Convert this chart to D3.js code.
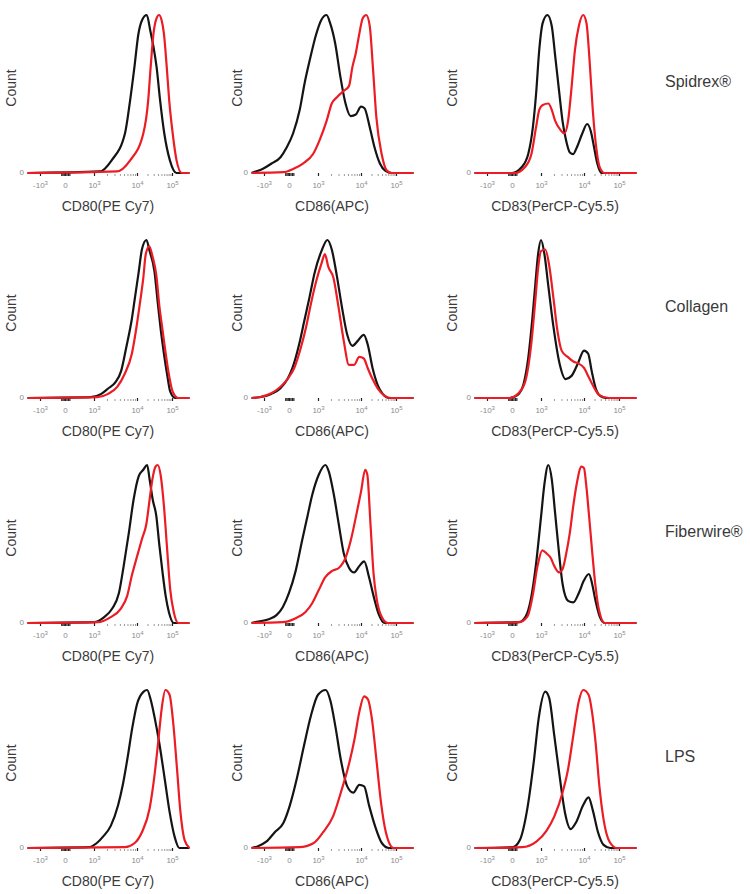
<!DOCTYPE html>
<html>
<head>
<meta charset="utf-8">
<script src="https://cdn.jsdelivr.net/npm/d3@7"></script>
<style>
  html, body { margin: 0; padding: 0; background: #fff; }
  svg { display: block; font-family: "Liberation Sans", Arial, sans-serif; }
  .axis path.domain { display: none; }
  .axis .tick line { stroke: #222; stroke-width: 1.2; }
  .axis .tick text { fill: #8a8a8a; font-size: 8px; }
  .minor .tick line { stroke: #9a9a9a; stroke-width: 1; }
  .minor .tick text { display: none; }
  .hist { fill: none; stroke-width: 2.2; stroke-linejoin: round; }
  .lbl { fill: #3a3a3a; }
</style>
</head>
<body>
<div id="chart"></div>
<script>
// flow histograms, % of mode vs. biexponential fluorescence (decade units:
// -1 = -10^3, 0 = 0, 1 = 10^3, 2 = 10^4, 3 = 10^5)

const markers = ["CD80(PE Cy7)", "CD86(APC)", "CD83(PerCP-Cy5.5)"];
const conditions = ["Spidrex®", "Collagen", "Fiberwire®", "LPS"];
const tickValues = [-1, 0, 1, 2, 3];
const tickBase = ["-10", "0", "10", "10", "10"];
const tickExp = ["3", "", "3", "4", "5"];

// [decade position, % of max]; black = control, red = treated
const spidrexCD80Black = [[-1.5,0],[1.14,1],[1.41,8],[1.72,25],[1.84,46],[1.94,67],[2.04,88],[2.15,97],[2.28,100],[2.38,90],[2.47,80],[2.56,67],[2.66,46],[2.78,25],[2.94,8],[3.13,0],[3.5,0]];
const spidrexCD80Red = [[-1.5,0],[1.53,1],[1.84,8],[2.18,25],[2.32,46],[2.39,67],[2.47,88],[2.56,98],[2.63,100],[2.7,97],[2.77,88],[2.85,67],[2.92,46],[3.02,25],[3.13,8],[3.28,0],[3.5,0]];
const spidrexCD86Black = [[-1.5,0],[-1.42,0.5],[-1.06,2.5],[-0.7,6],[-0.34,10],[-0.1,16],[0.14,25],[0.37,40],[0.54,57],[0.71,71],[0.94,88],[1.08,97],[1.2,100],[1.28,95],[1.4,82],[1.52,61],[1.64,44],[1.76,36],[1.88,37],[2.0,42],[2.1,41],[2.25,29],[2.39,16],[2.54,6],[2.69,1.5],[2.88,0],[3.5,0]];
const spidrexCD86Red = [[-1.5,0],[-0.22,0.5],[0.14,2.5],[0.48,6],[0.83,12],[1.04,21],[1.2,33],[1.32,44],[1.44,48],[1.6,52],[1.72,55],[1.8,67],[1.88,76],[1.96,88],[2.05,98],[2.15,100],[2.25,93],[2.34,67],[2.44,35],[2.59,12],[2.74,1.5],[2.88,0],[3.5,0]];
const spidrexCD83Black = [[-1.5,0],[0,0],[0.33,3.6],[0.56,12],[0.72,29],[0.83,50],[0.94,78],[1.04,95],[1.15,100],[1.25,93],[1.33,74],[1.42,52],[1.5,33],[1.58,21],[1.67,13],[1.75,12],[1.83,16],[1.96,25],[2.09,31],[2.2,26],[2.29,16],[2.38,6],[2.5,0],[3.5,0]];
const spidrexCD83Red = [[-1.5,0],[0.11,0],[0.44,3.6],[0.67,12],[0.83,29],[0.94,40],[1.04,43],[1.17,44],[1.25,40],[1.33,33],[1.46,27],[1.54,25],[1.63,33],[1.71,54],[1.79,78],[1.88,93],[1.98,100],[2.07,95],[2.16,71],[2.25,40],[2.35,16],[2.45,3.6],[2.59,0],[3.5,0]];

const collagenCD80Black = [[-1.5,0],[0.88,0.5],[1.17,2.6],[1.33,6],[1.5,10],[1.63,17],[1.75,32],[1.88,50],[1.96,65],[2.05,80],[2.14,94],[2.27,100],[2.36,93],[2.5,80],[2.59,61],[2.68,43],[2.77,28],[2.86,15],[2.95,4],[3.09,0],[3.5,0]];
const collagenCD80Red = [[-1.5,0],[1.07,0.5],[1.33,2.6],[1.54,7],[1.71,15],[1.88,28],[2.0,47],[2.09,61],[2.18,76],[2.25,91],[2.35,96],[2.45,89],[2.55,78],[2.64,58],[2.73,43],[2.82,28],[2.91,15],[3.02,4],[3.18,0],[3.5,0]];
const collagenCD86Black = [[-1.5,0],[-1.18,0.5],[-0.71,2.6],[-0.35,6],[-0.06,12],[0.12,19],[0.35,34],[0.53,49],[0.71,64],[0.88,79],[1.08,93],[1.22,100],[1.32,94],[1.44,77],[1.56,57],[1.68,40],[1.8,33],[1.92,36],[2.08,40],[2.19,34],[2.33,19],[2.48,8],[2.62,2.6],[2.81,0],[3.5,0]];
const collagenCD86Red = [[-1.5,0],[-1.18,0.5],[-0.71,3],[-0.35,7],[-0.06,12],[0.18,19],[0.41,32],[0.59,45],[0.76,60],[0.94,74],[1.08,85],[1.16,91],[1.24,83],[1.36,76],[1.48,57],[1.6,36],[1.72,21],[1.84,21],[1.96,26],[2.08,25],[2.19,19],[2.33,12],[2.48,6],[2.67,1.5],[2.86,0],[3.5,0]];
const collagenCD83Black = [[-1.5,0],[-0.1,0],[0.2,2],[0.4,9],[0.55,24],[0.7,50],[0.8,71],[0.9,91],[1.0,100],[1.08,91],[1.17,71],[1.29,45],[1.43,22],[1.57,12],[1.71,14],[1.86,22],[2.0,30],[2.12,28],[2.22,17],[2.33,6.5],[2.48,1],[2.62,0],[3.5,0]];
const collagenCD83Red = [[-1.5,0],[-0.1,0],[0.2,2.6],[0.45,10],[0.65,32],[0.8,61],[0.9,82],[1.0,93],[1.1,94],[1.19,84],[1.29,63],[1.38,43],[1.48,30],[1.62,26],[1.76,23],[1.86,22],[2.0,19],[2.14,13],[2.29,6.5],[2.43,2],[2.71,0],[3.5,0]];

const fiberwireCD80Black = [[-1.5,0],[1.0,0.5],[1.23,3.6],[1.42,9],[1.58,19],[1.69,36],[1.81,57],[1.92,78],[2.05,93],[2.18,97],[2.29,100],[2.36,91],[2.45,78],[2.55,68],[2.64,49],[2.73,32],[2.82,17],[2.91,7],[3.05,0],[3.5,0]];
const fiberwireCD80Red = [[-1.5,0],[1.08,0.5],[1.38,3.6],[1.62,9],[1.77,17],[1.88,30],[2.0,42],[2.14,53],[2.27,63],[2.36,78],[2.44,91],[2.53,99],[2.59,100],[2.68,93],[2.77,74],[2.86,47],[2.95,21],[3.05,7],[3.18,0],[3.5,0]];
const fiberwireCD86Black = [[-1.5,0],[-1.38,0.5],[-0.88,2],[-0.5,5],[-0.25,10],[0,19],[0.23,33],[0.45,52],[0.63,67],[0.8,81],[1.02,94],[1.17,100],[1.25,96],[1.37,81],[1.48,63],[1.6,44],[1.72,35],[1.84,32],[1.96,36],[2.09,39],[2.23,29],[2.36,17],[2.5,6],[2.68,0],[3.5,0]];
const fiberwireCD86Red = [[-1.5,0],[-0.25,0.5],[0.23,3],[0.57,7],[0.8,12.5],[1.02,21],[1.17,29],[1.33,33],[1.49,35],[1.65,42],[1.76,52],[1.88,67],[2.0,83],[2.12,97],[2.18,94],[2.27,63],[2.36,31],[2.45,15],[2.59,4],[2.77,0],[3.5,0]];
const fiberwireCD83Black = [[-1.5,0],[0.24,0.5],[0.47,4],[0.65,15],[0.82,36],[1.0,67],[1.08,88],[1.17,100],[1.25,91],[1.33,69],[1.42,44],[1.5,25],[1.63,14],[1.75,13],[1.88,19],[2.0,27],[2.14,31],[2.23,25],[2.32,15],[2.45,4],[2.59,0],[3.5,0]];
const fiberwireCD83Red = [[-1.5,0],[0.24,0.5],[0.53,4],[0.71,17],[0.88,36],[1.03,46],[1.13,44],[1.23,41],[1.31,36],[1.42,32],[1.5,34],[1.58,43],[1.67,57],[1.75,74],[1.83,88],[1.94,99],[2.0,98],[2.06,88],[2.14,69],[2.23,46],[2.32,25],[2.43,8],[2.59,0],[3.5,0]];

const lpsCD80Black = [[-1.5,0],[0.82,0.5],[1.06,3],[1.22,7.5],[1.39,14],[1.56,27],[1.67,40],[1.78,57],[1.89,76],[2.0,91],[2.19,99],[2.29,100],[2.39,94],[2.5,83],[2.64,66],[2.79,44],[2.93,23],[3.07,7.5],[3.21,0],[3.5,0]];
const lpsCD80Red = [[-1.5,0],[1.72,0.5],[1.94,3],[2.14,10],[2.36,25],[2.5,46],[2.61,68],[2.71,89],[2.81,100],[2.93,97],[3.04,78],[3.14,51],[3.24,23],[3.36,5],[3.5,0]];
const lpsCD86Black = [[-1.5,0],[-1.26,1],[-0.91,4],[-0.57,10],[-0.22,16],[0.03,27],[0.27,44],[0.52,65],[0.76,84],[1.0,97],[1.18,100],[1.29,93],[1.41,76],[1.53,56],[1.68,39],[1.82,35],[1.96,40],[2.09,39],[2.23,27],[2.4,14],[2.6,3],[2.8,0],[3.5,0]];
const lpsCD86Red = [[-1.5,0],[0.35,0.5],[0.84,3],[1.12,10],[1.35,20],[1.53,35],[1.71,52],[1.85,69],[1.96,86],[2.09,96],[2.2,94],[2.31,82],[2.44,56],[2.57,29],[2.71,10],[2.93,0],[3.5,0]];
const lpsCD83Black = [[-1.5,0],[0.03,0.5],[0.27,5],[0.52,24],[0.76,56],[0.92,82],[1.1,99],[1.19,95],[1.31,71],[1.44,44],[1.56,22],[1.69,12],[1.81,16],[1.98,27],[2.13,32],[2.25,24],[2.4,10],[2.56,2],[2.75,0],[3.5,0]];
const lpsCD83Red = [[-1.5,0],[0.35,0.5],[0.84,4],[1.13,11],[1.31,20],[1.5,35],[1.63,50],[1.75,71],[1.88,93],[1.98,100],[2.13,97],[2.23,86],[2.33,67],[2.44,39],[2.56,18],[2.73,4],[2.94,0],[3.5,0]];

const panels = [
  [[spidrexCD80Black, spidrexCD80Red], [spidrexCD86Black, spidrexCD86Red], [spidrexCD83Black, spidrexCD83Red]],
  [[collagenCD80Black, collagenCD80Red], [collagenCD86Black, collagenCD86Red], [collagenCD83Black, collagenCD83Red]],
  [[fiberwireCD80Black, fiberwireCD80Red], [fiberwireCD86Black, fiberwireCD86Red], [fiberwireCD83Black, fiberwireCD83Red]],
  [[lpsCD80Black, lpsCD80Red], [lpsCD86Black, lpsCD86Red], [lpsCD83Black, lpsCD83Red]]
];

// layout
const W = 750, H = 894;
const colLeft = [28, 252, 475];
const countX = [11, 237, 452];
const tickOffsets = [12, 37, 66, 109, 144];   // biex decades are not evenly spaced
const rowBase = i => 173 + i * 225;
const plotH = 158;
const seriesColor = ["#141414", "#ec1c24"];

const svg = d3.select("#chart").append("svg")
  .attr("width", W).attr("height", H)
  .attr("viewBox", `0 0 ${W} ${H}`);
svg.append("rect").attr("width", W).attr("height", H).attr("fill", "#fff");

// minor log ticks inside the 10^3..10^5 decades, plus the dense linear bit at 0
const minorTicks = [];
for (const d of [1, 2]) for (let k = 2; k <= 9; k++) minorTicks.push(d + Math.log10(k));
const zeroTicks = [-0.15, -0.1, -0.05, 0.05, 0.1, 0.15];

conditions.forEach((cond, r) => {
  const base = rowBase(r);
  const y = d3.scaleLinear([0, 100], [base, base - plotH]);

  markers.forEach((marker, c) => {
    const left = colLeft[c];
    const x = d3.scaleLinear(tickValues, tickOffsets.map(o => left + o));
    const g = svg.append("g");

    // minor ticks
    g.append("g").attr("class", "axis minor")
      .attr("transform", `translate(0,${base + 1})`)
      .call(d3.axisBottom(x).tickValues(minorTicks).tickSize(2).tickFormat(""));
    g.append("g").attr("class", "axis")
      .attr("transform", `translate(0,${base})`)
      .call(d3.axisBottom(x).tickValues(zeroTicks).tickSize(3).tickFormat(""));

    // major ticks with superscript labels
    const ax = g.append("g").attr("class", "axis")
      .attr("transform", `translate(0,${base})`)
      .call(d3.axisBottom(x).tickValues(tickValues).tickSize(3).tickPadding(6)
        .tickFormat(""));
    ax.selectAll(".tick text").each(function (d, i) {
      const t = d3.select(this);
      t.append("tspan").text(tickBase[i]);
      if (tickExp[i]) {
        t.append("tspan").attr("dy", "-3").attr("font-size", "6px").text(tickExp[i]);
      }
    });

    // y zero label
    g.append("text").attr("x", left - 4).attr("y", base + 2)
      .attr("text-anchor", "end").attr("font-size", 8).attr("fill", "#8a8a8a")
      .text("0");

    // histograms: control first, treated on top
    const line = d3.line()
      .x(p => x(p[0])).y(p => y(p[1]))
      .curve(d3.curveMonotoneX);
    panels[r][c].forEach((series, s) => {
      g.append("path").attr("class", "hist")
        .attr("stroke", seriesColor[s])
        .attr("d", line(series));
    });

    // axis titles
    g.append("text").attr("class", "lbl")
      .attr("x", left + 80).attr("y", base + 38)
      .attr("text-anchor", "middle").attr("font-size", 14)
      .text(marker);
    g.append("text").attr("class", "lbl")
      .attr("transform", `translate(${countX[c]},${base - 85}) rotate(-90)`)
      .attr("text-anchor", "middle").attr("dominant-baseline", "central")
      .attr("font-size", 14)
      .text("Count");
  });

  svg.append("text").attr("class", "lbl")
    .attr("x", 665).attr("y", base - 92)
    .attr("dominant-baseline", "central").attr("font-size", 16)
    .text(cond);
});
</script>
</body>
</html>
